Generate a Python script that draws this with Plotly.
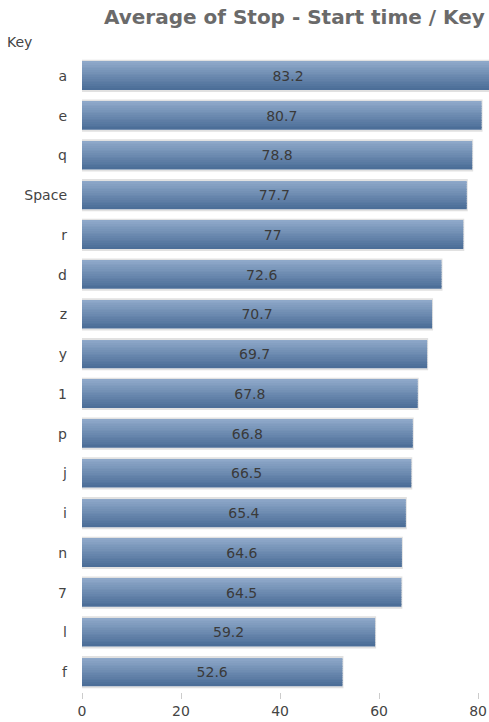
import plotly.graph_objects as go

# Average duration (stop - start) per key
keys = ["a", "e", "q", "Space", "r", "d", "z", "y", "1", "p", "j", "i", "n", "7", "l", "f"]
avg_time = [83.2, 80.7, 78.8, 77.7, 77, 72.6, 70.7, 69.7, 67.8, 66.8, 66.5, 65.4, 64.6, 64.5, 59.2, 52.6]
x_ticks = [0, 20, 40, 60, 80]

BAR_W = 0.7
N_SLICES = 16
TOP = (142, 168, 201)
BOTTOM = (76, 110, 152)
FONT = "DejaVu Sans"


def mix(a, b, t):
    return "rgb(%d,%d,%d)" % tuple(round(a[i] + (b[i] - a[i]) * t) for i in range(3))


fig = go.Figure()

# Soft grey halo behind each bar
fig.add_trace(go.Bar(
    y=keys, x=avg_time, orientation="h", width=BAR_W + 0.06,
    marker=dict(color="rgba(0,0,0,0)", line=dict(color="rgba(170,170,170,0.35)", width=2)),
    hoverinfo="skip", showlegend=False,
))

# Vertical gradient built from thin stacked slices (top light -> bottom dark)
slice_w = BAR_W / N_SLICES
for i in range(N_SLICES):
    t = i / (N_SLICES - 1)
    fig.add_trace(go.Bar(
        y=keys, x=avg_time, orientation="h",
        width=slice_w * 1.08, offset=-BAR_W / 2 + i * slice_w,
        marker=dict(color=mix(TOP, BOTTOM, t), line=dict(width=0)),
        hoverinfo="skip", showlegend=False,
    ))

# Value labels centred in each bar
fig.add_trace(go.Bar(
    y=keys, x=avg_time, orientation="h", width=BAR_W,
    marker=dict(color="rgba(0,0,0,0)", line=dict(width=0)),
    text=[f"{v:g}" for v in avg_time], textposition="inside",
    insidetextanchor="middle", textangle=0,
    textfont=dict(family=FONT, size=14, color="#3a3a3a"),
    showlegend=False,
))

fig.update_layout(
    barmode="overlay",
    width=489, height=722,
    margin=dict(l=82, r=0, t=56, b=30),
    paper_bgcolor="white", plot_bgcolor="white",
    font=dict(family=FONT, color="#444444", size=14),
    title=dict(
        text="Average of Stop - Start time / Key",
        x=0.602, xanchor="center", y=0.976, yanchor="middle",
        font=dict(family=FONT, size=20, color="#6a6a6a", weight="bold"),
    ),
    uniformtext=dict(minsize=8, mode="show"),
    annotations=[dict(
        text="Key", xref="paper", yref="paper", x=-0.19, y=1.022,
        xanchor="left", yanchor="middle", showarrow=False,
        font=dict(family=FONT, size=14, color="#444444"),
    )],
)

fig.update_xaxes(
    range=[0, 82.2], tickvals=x_ticks, showgrid=False, zeroline=False,
    showline=False, ticks="outside", ticklen=6, tickcolor="#cccccc",
    tickfont=dict(family=FONT, size=14, color="#444444"),
    fixedrange=True,
)
fig.update_yaxes(
    autorange="reversed", showgrid=False, zeroline=False, showline=False,
    ticks="", ticklabelstandoff=14,
    tickfont=dict(family=FONT, size=14, color="#444444"),
)

fig.write_html("out.html")
